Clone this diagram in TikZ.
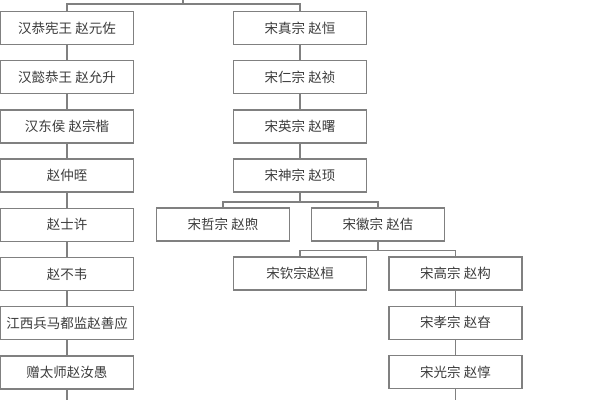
\documentclass[tikz,border=0pt]{standalone}
\usepackage{fontspec}
\setmainfont{Noto Sans CJK SC}
\usetikzlibrary{positioning}
\definecolor{boxline}{RGB}{128,128,128}
\definecolor{boxtext}{RGB}{60,60,60}
\tikzset{%
    person/.style={rectangle, draw=boxline, line width=1.3pt, fill=white,
        minimum width=133pt, minimum height=33pt, inner sep=0pt,
        text=boxtext, font=\fontsize{13.5}{15}\selectfont},
    link/.style={draw=boxline, line width=1.3pt}
}
\begin{document}
\begin{tikzpicture}[x=1pt, y=-1pt]
    \useasboundingbox (0,0) rectangle (600,400);
    % left line
    \node[person] (l1) at (67,28) {汉恭宪王 赵元佐};
    \node[person, below=14.9pt of l1] (l2) {汉懿恭王 赵允升};
    \node[person, below=14.9pt of l2] (l3) {汉东侯 赵宗楷};
    \node[person, below=14.9pt of l3] (l4) {赵仲晊};
    \node[person, below=14.9pt of l4] (l5) {赵士许};
    \node[person, below=14.9pt of l5] (l6) {赵不韦};
    \node[person, below=14.9pt of l6] (l7) {江西兵马都监赵善应};
    \node[person, below=14.9pt of l7] (l8) {赠太师赵汝愚};
    % right line
    \node[person] (r1) at (300,28) {宋真宗 赵恒};
    \node[person, below=14.9pt of r1] (r2) {宋仁宗 赵祯};
    \node[person, below=14.9pt of r2] (r3) {宋英宗 赵曙};
    \node[person, below=14.9pt of r3] (r4) {宋神宗 赵顼};
    \node[person] (zhe) at (223,224.5) {宋哲宗 赵煦};
    \node[person] (hui) at (378,224.5) {宋徽宗 赵佶};
    \node[person] (qin) at (300,273.5) {宋钦宗赵桓};
    \node[person] (gao) at (455.5,273.5) {宋高宗 赵构};
    \node[person, below=14.9pt of gao] (xiao) {宋孝宗 赵昚};
    \node[person, below=14.9pt of xiao] (guang) {宋光宗 赵惇};
    % forks and open ends
    \coordinate (top) at (183,0);
    \coordinate (fork0) at (183,4);
    \coordinate (fork1) at (300,202);
    \coordinate (fork2) at (378,250.5);
    \coordinate (lend) at (67,400);
    \coordinate (rend) at (455.5,400);
    % connectors
    \draw[link] (top) -- (fork0);
    \draw[link] (l1.north) |- (fork0) -| (r1.north);
    \foreach \a/\b in {l1/l2, l2/l3, l3/l4, l4/l5, l5/l6, l6/l7, l7/l8,
                       r1/r2, r2/r3, r3/r4, gao/xiao, xiao/guang}
        \draw[link] (\a.south) -- (\b.north);
    \draw[link] (r4.south) -- (fork1);
    \draw[link] (zhe.north) |- (fork1) -| (hui.north);
    \draw[link] (hui.south) -- (fork2);
    \draw[link] (qin.north) |- (fork2) -| (gao.north);
    \draw[link] (l8.south) -- (lend);
    \draw[link] (guang.south) -- (rend);
\end{tikzpicture}
\end{document}
